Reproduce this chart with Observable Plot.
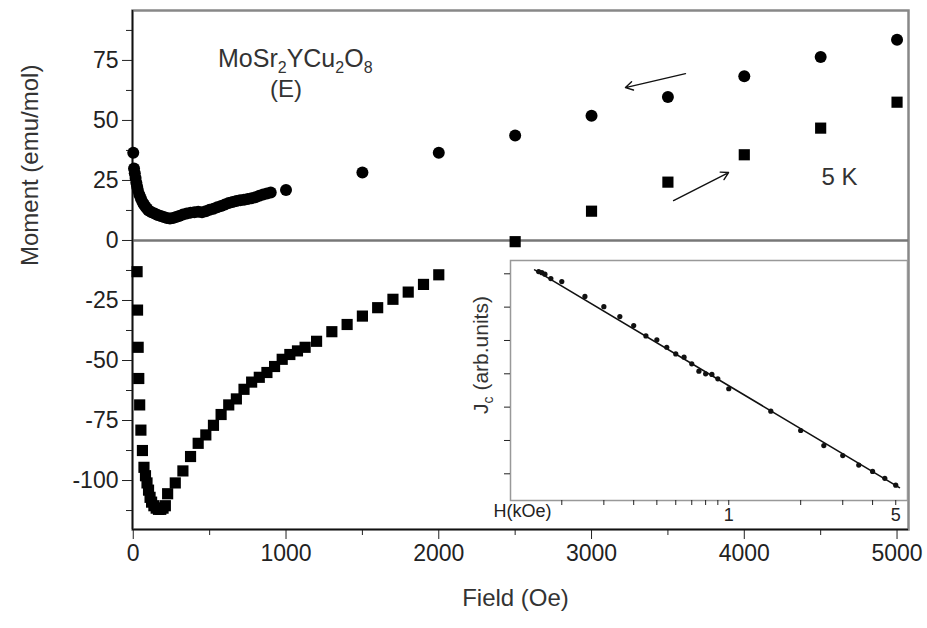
<!DOCTYPE html>
<html><head><meta charset="utf-8">
<script src="https://cdn.jsdelivr.net/npm/d3@7"></script>
<script src="https://cdn.jsdelivr.net/npm/@observablehq/plot@0.6"></script>
<style>
body{margin:0;background:#fff;}
#wrap{position:relative;width:927px;height:628px;font-family:"Liberation Sans",Arial,sans-serif;}
#inset{position:absolute;left:460px;top:250px;}
</style></head><body><div id="wrap"><div id="main"></div><div id="inset"></div></div>
<script>
// Decreasing-field branch (circles)
const downH = [0,5,10,15,20,25,30,40,50,60,70,80,90,100,120,140,160,180,200,220,240,260,280,300,325,350,375,400,425,450,475,500,525,550,575,600,625,650,675,700,725,750,775,800,825,850,875,900,1000,1500,2000,2500,3000,3500,4000,4500,5000];
const downM = [36.5,30,28,26,24,22.5,21,19,17.5,16,15,14,13.3,12.5,11.8,11.2,10.6,10.2,9.8,9.4,9.2,9.4,9.8,10.2,10.8,11.2,11.6,11.8,12,11.8,12.2,12.8,13.2,13.8,14.4,15,15.6,16,16.4,16.8,17,17.3,17.6,18,18.6,19.2,19.6,20,21,28.3,36.5,43.7,52,59.8,68.4,76.4,83.6];
// Increasing-field branch (squares)
const upH = [25,28,32,36,42,50,60,70,80,90,100,110,120,135,150,165,180,195,210,225,275,325,375,425,475,525,575,625,675,725,775,825,875,925,975,1025,1075,1125,1200,1300,1400,1500,1600,1700,1800,1900,2000,2500,3000,3500,4000,4500,5000];
const upM = [-13,-29,-44.5,-57.5,-68.5,-79,-87.5,-94.5,-98,-101,-104,-107,-109,-110.5,-111.5,-112,-112,-111.5,-110.5,-105.5,-101,-96,-90,-84.5,-81,-77,-72.5,-68.5,-66,-62,-59,-57,-55,-52.5,-49.5,-47.5,-46,-44.5,-42,-38,-35,-31.5,-28,-24.5,-21.5,-18.3,-14.3,-0.5,12.2,24.3,35.7,46.8,57.6];
// Inset: Jc vs H (kOe), log-log
const insetH = [0.16,0.165,0.17,0.18,0.2,0.25,0.3,0.35,0.4,0.45,0.5,0.55,0.6,0.65,0.7,0.75,0.8,0.85,0.9,1.0,1.5,2,2.5,3,3.5,4,4.5,5];
const insetJ = [67,65.5,63.5,58,54.5,40,32.3,26.3,21.8,17.6,16.2,13.9,12.1,11.3,9.85,8.45,8.0,7.89,7.21,5.86,3.68,2.46,1.80,1.46,1.20,1.05,0.91,0.79];
const fitH = [0.154,5.18];
const fitJ = [69.5,0.75];
// Ticks
const yTicks = [-100,-75,-50,-25,0,25,50,75];
const yMinor = [-112.5,-87.5,-62.5,-37.5,-12.5,12.5,37.5,62.5,87.5];
const xTicks = [0,1000,2000,3000,4000,5000];
const xMinor = [500,1500,2500,3500,4500];
const insetXTicks = [0.2,0.3,0.4,0.5,0.6,0.7,0.8,0.9,1,2,3,4,5];
const insetXLabels = [1,5];
const insetYTicks = [1,2,4,8,16,32,64];
// Annotations
const arrows = [{x1:3615,y1:69.5,x2:3222,y2:63.7},{x1:3537,y1:16.6,x2:3897,y2:28.3}];

const down = downH.map((h,i)=>({H:h,M:downM[i]}));
const up = upH.map((h,i)=>({H:h,M:upM[i]}));
const ins = insetH.map((h,i)=>({H:h,J:insetJ[i]}));
const fit = fitH.map((h,i)=>({H:h,J:fitJ[i]}));

const FONT = "Liberation Sans, Arial, sans-serif";
const xDom = [-5,5075], yDom = [-120.4,95.8];

const main = Plot.plot({
  width:927, height:628, marginLeft:132, marginRight:19, marginTop:10, marginBottom:99,
  style:{fontFamily:FONT, fontSize:"23px", color:"#222", background:"white", overflow:"visible"},
  x:{domain:xDom}, y:{domain:yDom},
  marks:[
    Plot.frame({stroke:"#888", strokeWidth:2.5}),
    Plot.ruleY([0],{stroke:"#777", strokeWidth:2.5}),
    Plot.axisY({ticks:yTicks, tickSize:10, tickPadding:4, label:null, tickFormat:d=>String(d)}),
    Plot.axisY({ticks:yMinor, tickSize:6, tickFormat:()=>"", label:null}),
    Plot.axisX({ticks:xTicks, tickSize:10, tickPadding:5, label:null, tickFormat:d=>String(d)}),
    Plot.axisX({ticks:xMinor, tickSize:6, tickFormat:()=>"", label:null}),
    Plot.ruleX([xDom[0]],{stroke:"#111", strokeWidth:1.5}),
    Plot.ruleY([yDom[0]],{stroke:"#111", strokeWidth:1.5}),
    Plot.text(["Moment (emu/mol)"],{frameAnchor:"left", dx:-102, dy:-4, rotate:-90, fontSize:24, fill:"#333"}),
    Plot.text(["Field (Oe)"],{frameAnchor:"bottom", dx:-5, dy:76, fontSize:24, fill:"#333"}),
    Plot.dot(down,{x:"H", y:"M", r:6, fill:"black"}),
    Plot.dot(up,{x:"H", y:"M", symbol:"square", r:6.3, fill:"black"}),
    Plot.arrow(arrows,{x1:"x1", y1:"y1", x2:"x2", y2:"y2", stroke:"#111", strokeWidth:1.4, headLength:9}),
    Plot.text(["5 K"],{x:[4623], y:[26.2], fontSize:24, fill:"#333"})
  ]
});
document.getElementById("main").append(main);

// Formula label with subscripts
const sx = main.scale("x"), sy = main.scale("y");
const svg = d3.select(main);
const t = svg.append("text").attr("x", sx.apply(558)).attr("y", sy.apply(72)).attr("text-anchor","start")
  .attr("font-family", FONT).attr("font-size", 25).attr("fill", "#333");
const parts = [["MoSr",0],["2",1],["YCu",0],["2",1],["O",0],["8",1]];
parts.forEach(([s,sub])=>{
  t.append("tspan").text(s).attr("font-size", sub?16:25).attr("dy", sub?6:(s==="MoSr"?0:-6));
});
svg.append("text").attr("x", sx.apply(1003)).attr("y", sy.apply(59.5)).attr("text-anchor","middle")
  .attr("font-family", FONT).attr("font-size", 24).attr("fill", "#333").text("(E)");

const inset = Plot.plot({
  width:460, height:290, marginLeft:50, marginRight:13, marginTop:10, marginBottom:40,
  style:{fontFamily:FONT, fontSize:"18px", color:"#222", background:"transparent", overflow:"visible"},
  x:{type:"log", domain:[0.122,5.6]},
  y:{type:"log", domain:[0.574,84.4]},
  marks:[
    Plot.frame({fill:"white", stroke:"#999", strokeWidth:1.5}),
    Plot.axisX({ticks:insetXTicks, tickSize:5, tickPadding:3, label:null, tickFormat:d=>insetXLabels.includes(d)?String(d):""}),
    Plot.axisY({ticks:insetYTicks, tickSize:6, tickFormat:()=>"", label:null}),
    Plot.text(["H(kOe)"],{frameAnchor:"bottom-left", dx:-17, dy:16, fontSize:18, fill:"#222"}),
    Plot.line(fit,{x:"H", y:"J", stroke:"#111", strokeWidth:1.6}),
    Plot.dot(ins,{x:"H", y:"J", r:2.6, fill:"#111"})
  ]
});
document.getElementById("inset").append(inset);
const isv = d3.select(inset);
const jt = isv.append("text").attr("transform","translate(28,105) rotate(-90)").attr("text-anchor","middle")
  .attr("font-family", FONT).attr("font-size", 21).attr("fill", "#333");
jt.append("tspan").text("J");
jt.append("tspan").text("c").attr("font-size",14).attr("dy",5);
jt.append("tspan").text(" (arb.units)").attr("dy",-5);
</script></body></html>
